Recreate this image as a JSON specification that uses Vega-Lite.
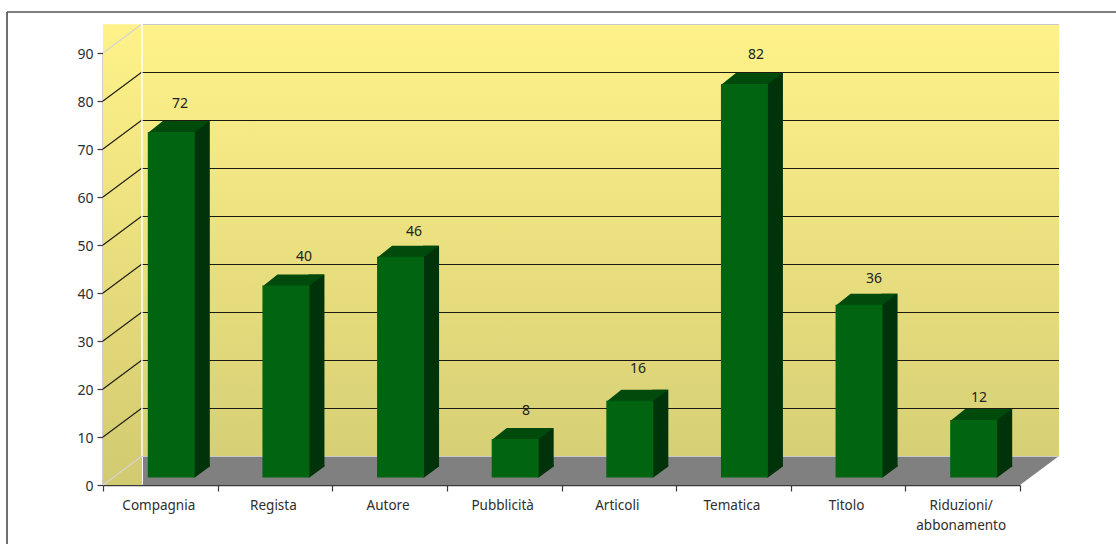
{
  "$schema": "https://vega.github.io/schema/vega-lite/v6.json",
  "width": 917,
  "height": 432,
  "autosize": {"type": "none"},
  "padding": {"left": 103, "top": 53, "right": 96, "bottom": 59},
  "background": "white",
  "view": {"stroke": null},
  "config": {
    "font": "Noto Sans",
    "axis": {"title": null, "grid": false, "domainColor": "#3a3a3a", "tickColor": "#3a3a3a", "labelColor": "#2e2e2e", "domainWidth": 1.5, "tickWidth": 1.2, "zindex": 1},
    "axisX": {"labelFontSize": 13.5, "labelPadding": 7, "labelOffset": -2, "tickSize": 6, "labelLineHeight": 20},
    "axisY": {"labelFontSize": 14, "labelPadding": 4, "labelOffset": 1, "tickSize": 6}
  },
  "datasets": {
    "requests": [
      {"category": "Compagnia", "value": 72},
      {"category": "Regista", "value": 40},
      {"category": "Autore", "value": 46},
      {"category": "Pubblicità", "value": 8},
      {"category": "Articoli", "value": 16},
      {"category": "Tematica", "value": 82},
      {"category": "Titolo", "value": 36},
      {"category": "Riduzioni/ abbonamento", "value": 12}
    ],
    "levels": [
      {"level": 0}, {"level": 10}, {"level": 20}, {"level": 30}, {"level": 40},
      {"level": 50}, {"level": 60}, {"level": 70}, {"level": 80}, {"level": 90}
    ],
    "scene": [{"part": "room"}]
  },
  "resolve": {"scale": {"x": "independent"}, "axis": {"x": "independent"}},
  "layer": [
    {
      "data": {"name": "scene"},
      "mark": {"type": "rect", "x2Offset": 39, "color": {"gradient": "linear", "x1": 0, "y1": 0, "x2": 0, "y2": 1, "stops": [{"offset": 0, "color": "#FFF28A"}, {"offset": 1, "color": "#D2CA70"}]}},
      "encoding": {
        "x": {"datum": 0, "type": "quantitative", "scale": {"domain": [0, 8]}, "axis": null},
        "x2": {"datum": 0},
        "y": {"datum": 0, "type": "quantitative", "scale": {"domain": [0, 90]}, "axis": {"values": [0, 10, 20, 30, 40, 50, 60, 70, 80, 90]}},
        "y2": {"datum": 96}
      }
    },
    {
      "data": {"name": "scene"},
      "mark": {"type": "rect", "xOffset": 39, "x2Offset": 39, "yOffset": -29, "y2Offset": -29, "color": {"gradient": "linear", "x1": 0, "y1": 0, "x2": 0, "y2": 1, "stops": [{"offset": 0, "color": "#FFF28A"}, {"offset": 1, "color": "#D6CF75"}]}},
      "encoding": {
        "x": {"datum": 0, "type": "quantitative", "scale": {"domain": [0, 8]}, "axis": null},
        "x2": {"datum": 8},
        "y": {"datum": 0, "type": "quantitative"},
        "y2": {"datum": 90}
      }
    },
    {
      "data": {"name": "scene"},
      "mark": {"type": "rect", "xOffset": 40, "y2Offset": -29, "color": "#808080"},
      "encoding": {
        "x": {"datum": 0, "type": "quantitative", "scale": {"domain": [0, 8]}, "axis": null},
        "x2": {"datum": 8},
        "y": {"datum": 0, "type": "quantitative"},
        "y2": {"datum": 0}
      }
    },
    {
      "data": {"name": "scene"},
      "mark": {"type": "point", "shape": "M0,0L39,-29L0,-29Z", "size": 4, "filled": true, "opacity": 1, "color": "#808080"},
      "encoding": {
        "x": {"datum": 8, "type": "quantitative", "scale": {"domain": [0, 8]}, "axis": null},
        "y": {"datum": 0, "type": "quantitative"}
      }
    },
    {
      "data": {"name": "levels"},
      "mark": {"type": "rule", "xOffset": 39, "x2Offset": 39, "yOffset": -28.5, "strokeWidth": 1},
      "encoding": {
        "x": {"datum": 0, "type": "quantitative", "scale": {"domain": [0, 8]}, "axis": null},
        "x2": {"datum": 8},
        "y": {"field": "level", "type": "quantitative"},
        "color": {"condition": {"test": "datum.level === 0 || datum.level === 90", "value": "#c9c9c9"}, "value": "#1a1a10"}
      }
    },
    {
      "data": {"name": "levels"},
      "mark": {"type": "point", "shape": "M0,0L39,-29", "size": 4, "filled": false, "opacity": 1, "strokeWidth": 1.1},
      "encoding": {
        "x": {"datum": 0, "type": "quantitative", "scale": {"domain": [0, 8]}, "axis": null},
        "y": {"field": "level", "type": "quantitative"},
        "stroke": {"condition": {"test": "datum.level === 0 || datum.level === 90", "value": "#d4d4d4"}, "value": "#1c1c14"}
      }
    },
    {
      "data": {"name": "scene"},
      "mark": {"type": "rule", "xOffset": 39, "yOffset": -29, "y2Offset": -29, "color": "#ffffff", "strokeWidth": 1.4},
      "encoding": {
        "x": {"datum": 0, "type": "quantitative", "scale": {"domain": [0, 8]}, "axis": null},
        "y": {"datum": 0, "type": "quantitative"},
        "y2": {"datum": 90}
      }
    },
    {
      "data": {"name": "requests"},
      "mark": {"type": "bar", "size": 16, "xOffset": 41.5, "yOffset": -18.5, "y2Offset": -18.5, "color": "#00330A"},
      "encoding": {
        "x": {"field": "category", "type": "nominal", "sort": null, "scale": {"type": "band", "paddingInner": 0, "paddingOuter": 0}, "axis": null},
        "y": {"field": "value", "type": "quantitative"},
        "y2": {"datum": 0}
      }
    },
    {
      "data": {"name": "requests"},
      "mark": {"type": "point", "shape": "M22.5,0L23.5,0L38.5,-11L38.5,-12.5L22.5,-12.5Z", "size": 4, "filled": true, "opacity": 1, "xOffset": 11, "yOffset": -7.5, "color": "#00330A"},
      "encoding": {
        "x": {"field": "category", "type": "nominal", "sort": null, "scale": {"type": "band", "paddingInner": 0, "paddingOuter": 0}, "axis": null},
        "y": {"datum": 0, "type": "quantitative"}
      }
    },
    {
      "data": {"name": "requests"},
      "mark": {"type": "point", "shape": "M-23.5,1L23.5,1L23.5,0L38.5,-11L-8.5,-11Z", "size": 4, "filled": true, "opacity": 1, "xOffset": 11, "yOffset": -7.5, "color": "#004A0C"},
      "encoding": {
        "x": {"field": "category", "type": "nominal", "sort": null, "scale": {"type": "band", "paddingInner": 0, "paddingOuter": 0}, "axis": null},
        "y": {"field": "value", "type": "quantitative"}
      }
    },
    {
      "data": {"name": "requests"},
      "mark": {"type": "bar", "size": 47, "xOffset": 11, "yOffset": -7.5, "y2Offset": -7.5, "color": "#006411"},
      "encoding": {
        "x": {
          "field": "category", "type": "nominal", "sort": null,
          "scale": {"type": "band", "paddingInner": 0, "paddingOuter": 0},
          "axis": {"labelAngle": 0, "tickBand": "extent", "labelExpr": "split(datum.label, ' ')"}
        },
        "y": {"field": "value", "type": "quantitative"},
        "y2": {"datum": 0}
      }
    },
    {
      "data": {"name": "requests"},
      "mark": {
        "type": "text",
        "fontSize": 14,
        "color": "#222222",
        "xOffset": {"expr": "{'Compagnia': 19.7, 'Regista': 29.1, 'Autore': 24.4, 'Pubblicità': 21.8, 'Articoli': 19.2, 'Tematica': 22.6, 'Titolo': 25.9, 'Riduzioni/ abbonamento': 16.3}[datum.category]"},
        "yOffset": {"expr": "{'Compagnia': -35.4, 'Regista': -36, 'Autore': -32, 'Pubblicità': -35.6, 'Articoli': -39, 'Tematica': -36.4, 'Titolo': -33, 'Riduzioni/ abbonamento': -29.4}[datum.category]"}
      },
      "encoding": {
        "x": {"field": "category", "type": "nominal", "sort": null, "scale": {"type": "band", "paddingInner": 0, "paddingOuter": 0}, "axis": null},
        "y": {"field": "value", "type": "quantitative"},
        "text": {"field": "value", "type": "quantitative"}
      }
    },
    {
      "data": {"name": "scene"},
      "mark": {"type": "rule", "xOffset": -96, "x2Offset": 96, "yOffset": -41, "color": "#555555", "strokeWidth": 1.4},
      "encoding": {
        "x": {"datum": 0, "type": "quantitative", "scale": {"domain": [0, 8]}, "axis": null},
        "x2": {"datum": 8},
        "y": {"datum": 90, "type": "quantitative"}
      }
    },
    {
      "data": {"name": "scene"},
      "mark": {"type": "rule", "xOffset": -96, "yOffset": 59, "y2Offset": -41, "color": "#333333", "strokeWidth": 1.4},
      "encoding": {
        "x": {"datum": 0, "type": "quantitative", "scale": {"domain": [0, 8]}, "axis": null},
        "y": {"datum": 0, "type": "quantitative"},
        "y2": {"datum": 90}
      }
    }
  ]
}
